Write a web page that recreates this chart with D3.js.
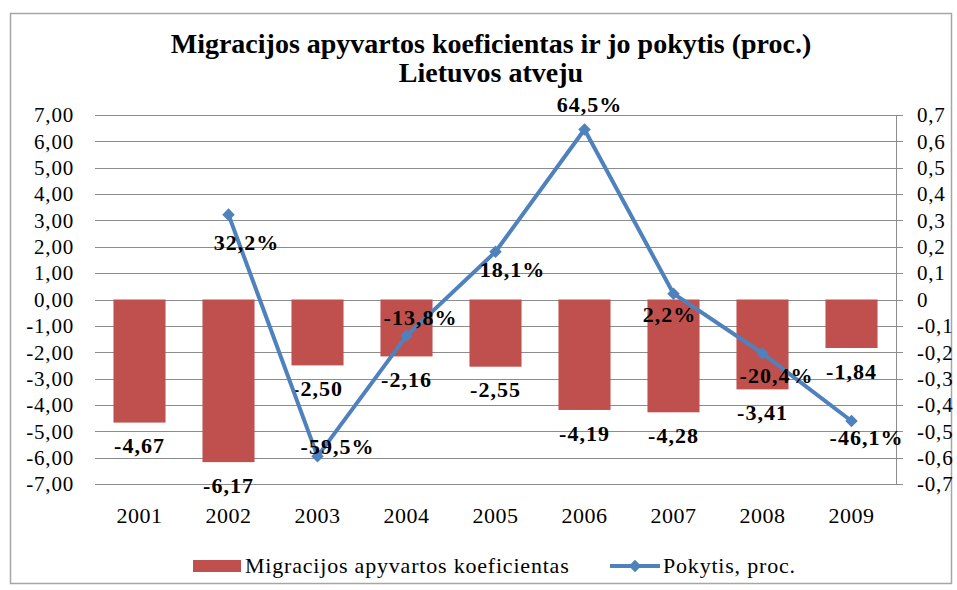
<!DOCTYPE html>
<html>
<head>
<meta charset="utf-8">
<script src="https://cdn.jsdelivr.net/npm/d3@7"></script>
<style>
  body { margin: 0; background: #fff; }
  text { font-family: 'Liberation Serif', 'Times New Roman', serif; }
</style>
</head>
<body>
<div id="chart"></div>
<script>
// data
const years = ['2001', '2002', '2003', '2004', '2005', '2006', '2007', '2008', '2009'];
const koeficientas = [-4.67, -6.17, -2.50, -2.16, -2.55, -4.19, -4.28, -3.41, -1.84];
const pokytis = [null, 0.322, -0.595, -0.138, 0.181, 0.645, 0.022, -0.204, -0.461];
const leftTicks = [7, 6, 5, 4, 3, 2, 1, 0, -1, -2, -3, -4, -5, -6, -7];
const rightTicks = [0.7, 0.6, 0.5, 0.4, 0.3, 0.2, 0.1, 0, -0.1, -0.2, -0.3, -0.4, -0.5, -0.6, -0.7];
const titleLines = ['Migracijos apyvartos koeficientas ir jo pokytis (proc.)', 'Lietuvos atveju'];
const seriesNames = ['Migracijos apyvartos koeficientas', 'Pokytis, proc.'];

// where Excel put the line labels, relative to the point
const lineLabelOffset = [null, [18, 28], [20, -10], [14, -19], [17, 18], [5, -25], [-4, 21], [14, 22], [15, 16]];

const width = 957, height = 590;
const barColor = '#C0504D', lineColor = '#4F81BD', gridColor = '#8c8c8c';
const plot = { left: 95, right: 896, top: 115, bottom: 484 };

const comma = v => v.toFixed(2).replace('.', ',');
const commaRight = v => v === 0 ? '0' : d3.format('.1f')(v).replace('.', ',').replace('−', '-');

const svg = d3.select('#chart').append('svg')
    .attr('width', width)
    .attr('height', height);

// outer frame
svg.append('rect')
    .attr('x', 10.5).attr('y', 13.5)
    .attr('width', 941).attr('height', 570)
    .attr('fill', '#fff')
    .attr('stroke', '#a6a6a6')
    .attr('stroke-width', 1.5);

// title
svg.selectAll('.title')
    .data(titleLines)
    .enter().append('text')
    .attr('class', 'title')
    .attr('x', 491)
    .attr('y', (d, i) => 53 + i * 29)
    .attr('text-anchor', 'middle')
    .attr('font-size', '28px')
    .attr('font-weight', 'bold')
    .attr('fill', '#000')
    .text(d => d);

const x = d3.scaleBand()
    .domain(years)
    .range([plot.left, plot.right])
    .padding(0);

const y = d3.scaleLinear()
    .domain([-7, 7])
    .range([plot.bottom, plot.top]);

const yRight = d3.scaleLinear()
    .domain([-0.7, 0.7])
    .range([plot.bottom, plot.top]);

const cx = d => x(d) + x.bandwidth() / 2;
const barWidth = x.bandwidth() * 0.585;

// gridlines
svg.append('g')
    .selectAll('line')
    .data(leftTicks)
    .enter().append('line')
    .attr('x1', plot.left)
    .attr('x2', plot.right + 7)
    .attr('y1', d => Math.round(y(d)) + 0.5)
    .attr('y2', d => Math.round(y(d)) + 0.5)
    .attr('stroke', gridColor)
    .attr('stroke-width', 1);

// left tick labels
svg.append('g')
    .selectAll('text')
    .data(leftTicks)
    .enter().append('text')
    .attr('x', 74)
    .attr('y', d => y(d))
    .attr('dy', '0.35em')
    .attr('text-anchor', 'end')
    .attr('font-size', '21px')
    .attr('letter-spacing', '0.8px')
    .attr('fill', '#000')
    .text(comma);

// right axis
svg.append('line')
    .attr('x1', plot.right + 0.5).attr('x2', plot.right + 0.5)
    .attr('y1', plot.top).attr('y2', plot.bottom)
    .attr('stroke', gridColor);

svg.append('g')
    .selectAll('text')
    .data(rightTicks)
    .enter().append('text')
    .attr('x', 917)
    .attr('y', d => yRight(d))
    .attr('dy', '0.35em')
    .attr('text-anchor', 'start')
    .attr('font-size', '21px')
    .attr('letter-spacing', '0.8px')
    .attr('fill', '#000')
    .text(commaRight);

// bars
svg.append('g')
    .selectAll('rect')
    .data(years)
    .enter().append('rect')
    .attr('x', d => cx(d) - barWidth / 2)
    .attr('y', y(0))
    .attr('width', barWidth)
    .attr('height', (d, i) => y(koeficientas[i]) - y(0))
    .attr('fill', barColor);

// bar labels
svg.append('g')
    .selectAll('text')
    .data(years)
    .enter().append('text')
    .attr('x', d => cx(d))
    .attr('y', (d, i) => y(koeficientas[i]) + 23)
    .attr('dy', '0.35em')
    .attr('text-anchor', 'middle')
    .attr('font-size', '22px')
    .attr('font-weight', 'bold')
    .attr('letter-spacing', '1px')
    .attr('fill', '#000')
    .text((d, i) => comma(koeficientas[i]));

// line
const linePts = years.map((d, i) => ({ year: d, v: pokytis[i], i: i })).filter(p => p.v !== null);

svg.append('path')
    .datum(linePts)
    .attr('fill', 'none')
    .attr('stroke', lineColor)
    .attr('stroke-width', 4)
    .attr('stroke-linejoin', 'round')
    .attr('d', d3.line().x(p => cx(p.year)).y(p => yRight(p.v)));

const diamond = d3.symbol().type(d3.symbolDiamond2).size(100);

svg.append('g')
    .selectAll('path')
    .data(linePts)
    .enter().append('path')
    .attr('d', diamond)
    .attr('transform', p => `translate(${cx(p.year)},${yRight(p.v)})`)
    .attr('fill', lineColor);

// line labels
svg.append('g')
    .selectAll('text')
    .data(linePts)
    .enter().append('text')
    .attr('x', p => cx(p.year) + lineLabelOffset[p.i][0])
    .attr('y', p => yRight(p.v) + lineLabelOffset[p.i][1])
    .attr('dy', '0.35em')
    .attr('text-anchor', 'middle')
    .attr('font-size', '22px')
    .attr('font-weight', 'bold')
    .attr('letter-spacing', '1px')
    .attr('fill', '#000')
    .text(p => d3.format('.1f')(p.v * 100).replace('.', ',').replace('−', '-') + '%');

// year labels
svg.append('g')
    .selectAll('text')
    .data(years)
    .enter().append('text')
    .attr('x', d => cx(d))
    .attr('y', 523)
    .attr('text-anchor', 'middle')
    .attr('font-size', '22px')
    .attr('letter-spacing', '0.5px')
    .attr('fill', '#000')
    .text(d => d);

// legend
const legend = svg.append('g');
legend.append('rect')
    .attr('x', 193).attr('y', 560)
    .attr('width', 48).attr('height', 12)
    .attr('fill', barColor);
legend.append('text')
    .attr('x', 245).attr('y', 573)
    .attr('font-size', '22px')
    .attr('letter-spacing', '0.8px')
    .attr('fill', '#000')
    .text(seriesNames[0]);
legend.append('line')
    .attr('x1', 610).attr('x2', 660)
    .attr('y1', 566).attr('y2', 566)
    .attr('stroke', lineColor)
    .attr('stroke-width', 4);
legend.append('path')
    .attr('d', diamond)
    .attr('transform', 'translate(635,566)')
    .attr('fill', lineColor);
legend.append('text')
    .attr('x', 663).attr('y', 573)
    .attr('font-size', '22px')
    .attr('letter-spacing', '0.8px')
    .attr('fill', '#000')
    .text(seriesNames[1]);
</script>
</body>
</html>
